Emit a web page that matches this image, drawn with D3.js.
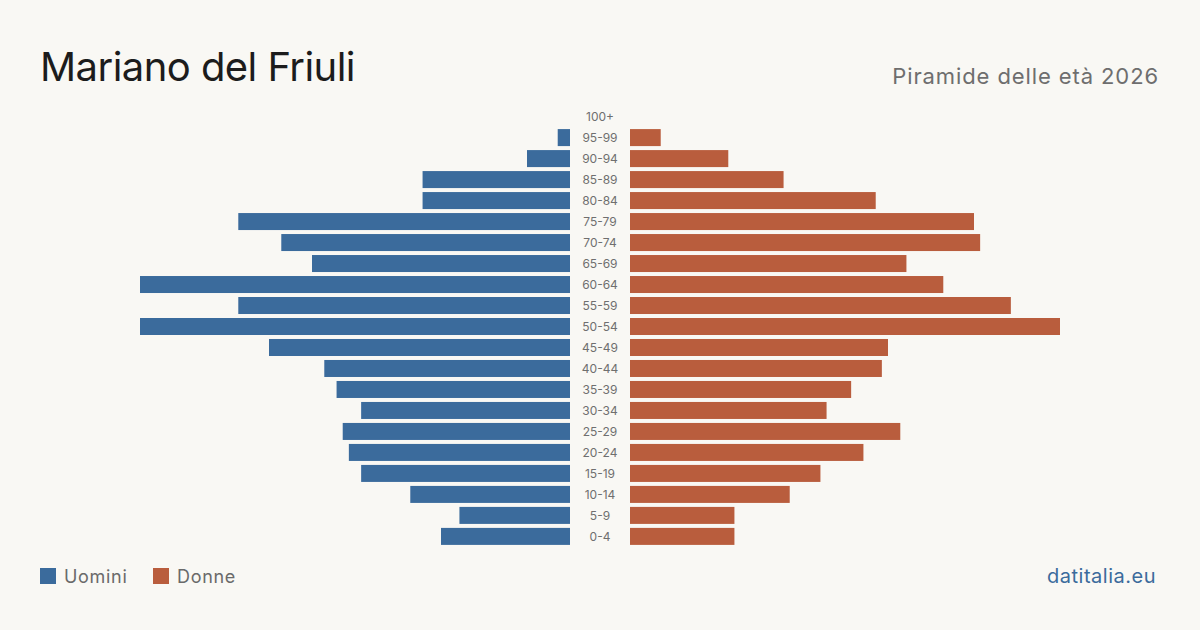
<!DOCTYPE html>
<html lang="it">
<head>
  <meta charset="UTF-8">
  <title>Mariano del Friuli - Piramide delle età 2026</title>
  <script src="https://d3js.org/d3.v7.min.js"></script>
  <style>
    body { margin: 0; background: #f9f8f4; }
    svg { display: block; font-family: Inter, "Noto Sans", sans-serif; }
    .age { font-size: 12px; fill: #6f6f6f; text-anchor: middle; }
  </style>
</head>
<body>
  <div id="chart"></div>
  <script>
    // classi di età, dall'alto verso il basso
    const ages = ["100+", "95-99", "90-94", "85-89", "80-84", "75-79", "70-74", "65-69",
      "60-64", "55-59", "50-54", "45-49", "40-44", "35-39", "30-34", "25-29",
      "20-24", "15-19", "10-14", "5-9", "0-4"];
    const uomini = [0, 2, 7, 24, 24, 54, 47, 42, 70, 54, 70, 49, 40, 38, 34, 37, 36, 34, 26, 18, 21];
    const donne  = [0, 5, 16, 25, 40, 56, 57, 45, 51, 62, 70, 42, 41, 36, 32, 44, 38, 31, 26, 17, 17];

    const W = 1200, H = 630;
    const blu = "#3b6b9c", rosso = "#b95d3d";

    const svg = d3.select("#chart").append("svg")
      .attr("width", W).attr("height", H);

    svg.append("rect").attr("width", W).attr("height", H).attr("fill", "#f9f8f4");

    // titolo e sottotitolo
    svg.append("text")
      .attr("x", 40).attr("y", 81)
      .attr("font-size", 40).attr("letter-spacing", -0.55).attr("fill", "#1c1c1c")
      .text("Mariano del Friuli");

    svg.append("text")
      .attr("x", 1159).attr("y", 84)
      .attr("text-anchor", "end")
      .attr("font-size", 22).attr("letter-spacing", 0.9).attr("fill", "#6e6e6e")
      .text("Piramide delle età 2026");

    const maxV = d3.max(uomini.concat(donne));
    const len = d3.scaleLinear().domain([0, maxV]).range([0, 430]);
    const y = d3.scaleBand().domain(ages).range([106, 547]).paddingInner(0.19).paddingOuter(0.1);

    const centroSx = 570, centroDx = 630;

    svg.append("g").selectAll("rect")
      .data(ages)
      .join("rect")
      .attr("x", (d, i) => centroSx - len(uomini[i]))
      .attr("y", d => y(d))
      .attr("width", (d, i) => len(uomini[i]))
      .attr("height", y.bandwidth())
      .attr("fill", blu);

    svg.append("g").selectAll("rect")
      .data(ages)
      .join("rect")
      .attr("x", centroDx)
      .attr("y", d => y(d))
      .attr("width", (d, i) => len(donne[i]))
      .attr("height", y.bandwidth())
      .attr("fill", rosso);

    svg.append("g").selectAll("text")
      .data(ages)
      .join("text")
      .attr("class", "age")
      .attr("x", 600)
      .attr("y", d => y(d) + y.bandwidth() / 2)
      .attr("dy", "0.36em")
      .text(d => d);

    // legenda
    const legenda = [["Uomini", blu, 40], ["Donne", rosso, 153]];
    legenda.forEach(([nome, col, x]) => {
      svg.append("rect").attr("x", x).attr("y", 568).attr("width", 16).attr("height", 16).attr("fill", col);
      svg.append("text").attr("x", x + 24).attr("y", 583)
        .attr("font-size", 18).attr("letter-spacing", 0.7).attr("fill", "#6a6a6a").text(nome);
    });

    svg.append("text")
      .attr("x", 1156).attr("y", 583)
      .attr("text-anchor", "end")
      .attr("font-size", 20).attr("letter-spacing", 0.5).attr("fill", blu)
      .text("datitalia.eu");
  </script>
</body>
</html>
